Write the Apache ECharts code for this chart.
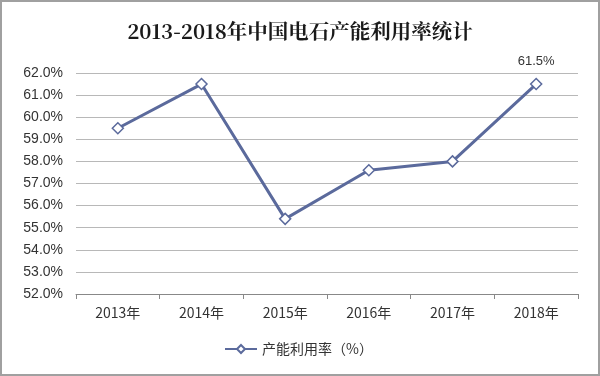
<!DOCTYPE html>
<html>
<head>
<meta charset="utf-8">
<script src="https://cdn.jsdelivr.net/npm/echarts@6/dist/echarts.min.js"></script>
<style>
  html, body { margin: 0; padding: 0; background: #fff; }
  #chart { width: 600px; height: 376px; box-sizing: border-box; border: 2px solid #a0a0a0; }
</style>
</head>
<body>
<div id="chart"></div>
<script>
// data
var years = ['2013年', '2014年', '2015年', '2016年', '2017年', '2018年'];
var utilization = [59.5, 61.5, 55.4, 57.6, 58.0, 61.5];
var seriesName = '产能利用率（%）';

var chart = echarts.init(document.getElementById('chart'));
chart.setOption({
    animation: false,
    title: {
        text: '2013-2018年中国电石产能利用率统计',
        left: 'center',
        top: 14,
        textStyle: {
            fontFamily: '"Noto Serif CJK SC", "Noto Sans CJK SC", serif',
            fontSize: 20.5,
            fontWeight: 'bold',
            color: '#1a1a1a'
        }
    },
    legend: {
        bottom: 13,
        left: 217,
        itemWidth: 32,
        itemHeight: 10,
        itemGap: 3,
        textStyle: { fontSize: 14, color: '#333', fontFamily: '"Noto Sans CJK SC", sans-serif' },
        data: [seriesName]
    },
    grid: {
        left: 74,
        right: 20,
        top: 71,
        bottom: 80
    },
    xAxis: {
        type: 'category',
        data: years,
        boundaryGap: true,
        axisLine: { lineStyle: { color: '#888' } },
        axisTick: { show: true, length: 5, lineStyle: { color: '#888' } },
        axisLabel: { color: '#333', fontSize: 14, margin: 12, fontFamily: '"Noto Sans CJK SC", sans-serif' }
    },
    yAxis: {
        type: 'value',
        min: 52,
        max: 62,
        interval: 1,
        axisLine: { show: false },
        axisTick: { show: false },
        axisLabel: {
            color: '#333',
            fontSize: 14,
            margin: 13,
            fontFamily: 'Arial, "Liberation Sans", sans-serif',
            formatter: function (v) { return v.toFixed(1) + '%'; }
        },
        splitLine: { lineStyle: { color: '#b8b8b8' } }
    },
    series: [{
        name: seriesName,
        type: 'line',
        data: utilization,
        symbol: 'diamond',
        symbolSize: 11,
        lineStyle: { color: '#5b6a9c', width: 3 },
        itemStyle: { color: '#fff', borderColor: '#5b6a9c', borderWidth: 1.5 },
        label: {
            show: true,
            position: 'top',
            distance: 10,
            color: '#333',
            fontSize: 13,
            fontFamily: 'Arial, "Liberation Sans", sans-serif',
            formatter: function (p) { return p.dataIndex === utilization.length - 1 ? p.value.toFixed(1) + '%' : ''; }
        }
    }]
});
</script>
</body>
</html>
